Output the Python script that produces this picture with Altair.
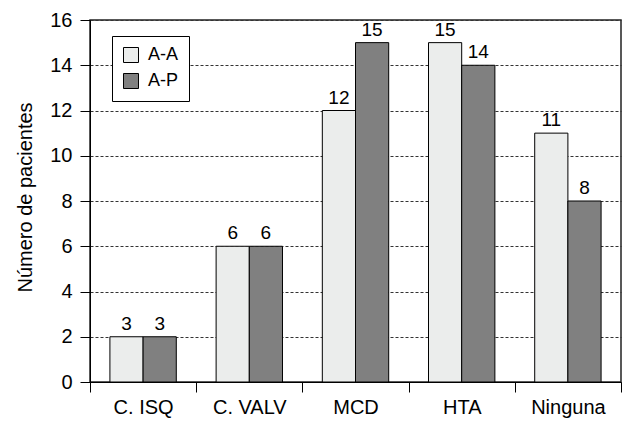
import altair as alt
import pandas as pd

categories = ["C. ISQ", "C. VALV", "MCD", "HTA", "Ninguna"]
series = ["A-A", "A-P"]
aa_heights = [2, 6, 12, 15, 11]
ap_heights = [2, 6, 15, 14, 8]
aa_labels = ["3", "6", "12", "15", "11"]
ap_labels = ["3", "6", "15", "14", "8"]
y_ticks = [0, 2, 4, 6, 8, 10, 12, 14, 16]

rows = []
for i, c in enumerate(categories):
    rows.append({"cat": c, "serie": "A-A", "value": aa_heights[i], "label": aa_labels[i]})
    rows.append({"cat": c, "serie": "A-P", "value": ap_heights[i], "label": ap_labels[i]})
df = pd.DataFrame(rows)

FONT = "Liberation Sans"

x_enc = alt.X("cat:N", sort=categories,
              scale=alt.Scale(paddingInner=0, paddingOuter=0),
              axis=alt.Axis(title=None, tickBand="extent", tickSize=10, labelFontSize=20,
                            labelFont=FONT, labelColor="#000", labelPadding=5, labelAngle=0,
                            domainColor="#000", tickColor="#000", grid=False))
xoff = alt.XOffset("serie:N", sort=series, scale=alt.Scale(paddingOuter=0.6, paddingInner=0))
y_enc = alt.Y("value:Q", scale=alt.Scale(domain=[0, 16], nice=False),
              axis=alt.Axis(title="Número de pacientes", values=y_ticks, tickSize=10,
                            labelFontSize=20, labelFont=FONT, labelColor="#000", labelPadding=8,
                            titleFontSize=20, titleFont=FONT, titleFontWeight="normal",
                            titleColor="#000", titleX=-65, titleY=177, titleAngle=-90,
                            titleAlign="center", titleBaseline="middle",
                            domainColor="#000", tickColor="#000",
                            grid=True, gridDash=[3, 2], gridColor="#333", gridWidth=1))

color = alt.Color("serie:N", sort=series,
                  scale=alt.Scale(domain=series, range=["#ebedec", "#808080"]),
                  legend=alt.Legend(title=None, orient="none", legendX=22, legendY=16,
                                    symbolType="square", symbolSize=225, symbolStrokeColor="#000",
                                    symbolStrokeWidth=1, symbolOpacity=1, labelFontSize=18,
                                    labelFont=FONT, labelColor="#000", labelOffset=8,
                                    rowPadding=6, padding=10, strokeColor="#000",
                                    fillColor="#fff", cornerRadius=0))

base = alt.Chart(df).encode(x=x_enc, xOffset=xoff)

bars = base.mark_bar(stroke="#000", strokeWidth=1).encode(y=y_enc, color=color)
texts = base.mark_text(baseline="bottom", dy=-3, fontSize=19, font=FONT, color="#000").encode(
    y=alt.Y("value:Q"), text="label:N")

chart = alt.layer(bars, texts).properties(
    width=531, height=362,
    autosize=alt.AutoSizeParams(type="none"),
    padding={"left": 90, "top": 20, "right": 17, "bottom": 39},
    background="#ffffff",
).configure_view(stroke="#222", strokeWidth=1.5)

chart.save("out.html", embed_options={"renderer": "svg", "actions": False})
